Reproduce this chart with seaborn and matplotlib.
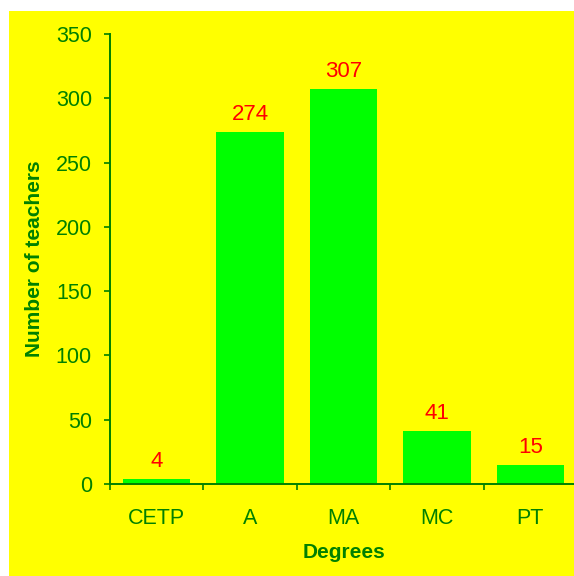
import matplotlib
matplotlib.use("Agg")
import matplotlib.pyplot as plt
from matplotlib.patches import Rectangle
import seaborn as sns
import pandas as pd

degrees = ["CETP", "A", "MA", "MC", "PT"]
teachers = [4, 274, 307, 41, 15]
y_ticks = [0, 50, 100, 150, 200, 250, 300, 350]

sns.set_style("white")
plt.rcParams["font.family"] = ["Liberation Sans", "DejaVu Sans"]

W, H = 574, 576
fig = plt.figure(figsize=(W / 100, H / 100), dpi=100, facecolor="white")

# yellow panel behind the chart
fig.patches.append(Rectangle((9 / W, 0), 1 - 9 / W, 1 - 11 / H,
                             transform=fig.transFigure, facecolor="#FFFF00",
                             edgecolor="none", zorder=-10))

ax = fig.add_axes([110 / W, 92 / H, 467 / W, 450 / H])
ax.set_facecolor("none")

df = pd.DataFrame({"Degrees": degrees, "Teachers": teachers})
sns.barplot(data=df, x="Degrees", y="Teachers", color="#00FF00",
            saturation=1, width=0.72, edgecolor="none", linewidth=0, ax=ax)

green = "#008000"
for bar, v in zip(ax.patches, teachers):
    ax.annotate(str(v), (bar.get_x() + bar.get_width() / 2, bar.get_height()),
                xytext=(0, 5), textcoords="offset points",
                ha="center", va="bottom", color="#FF0000", fontsize=16)

ax.set_ylim(0, 350)
ax.set_yticks(y_ticks)
ax.set_xlim(-0.5, 4.5)

# ticks between categories, labels centred under each bar
ax.set_xticks([i - 0.5 for i in range(len(degrees) + 1)])
ax.set_xticklabels([])
ax.set_xticks(range(len(degrees)), minor=True)
ax.set_xticklabels(degrees, minor=True)
ax.tick_params(axis="x", which="major", direction="out", length=4.5,
               width=1.2, color=green, bottom=True)
ax.tick_params(axis="x", which="minor", length=0, pad=17.5,
               labelsize=15.5, labelcolor=green)
ax.tick_params(axis="y", direction="out", length=4.5, width=1.2,
               color=green, left=True, labelsize=15.5, labelcolor=green, pad=8.5)

for side in ["top", "right"]:
    ax.spines[side].set_visible(False)
for side in ["left", "bottom"]:
    ax.spines[side].set_color(green)
    ax.spines[side].set_linewidth(1.4)

ax.set_xlabel("Degrees", fontsize=15, fontweight="bold", color=green)
ax.set_ylabel("Number of teachers", fontsize=15, fontweight="bold", color=green)
ax.xaxis.label.set_va("center")
ax.yaxis.label.set_va("center")
ax.xaxis.set_label_coords(0.5, (484 - 552) / 450)
ax.yaxis.set_label_coords((35 - 110) / 467, 0.5)

fig.savefig("out.png", dpi=100, facecolor="white")
